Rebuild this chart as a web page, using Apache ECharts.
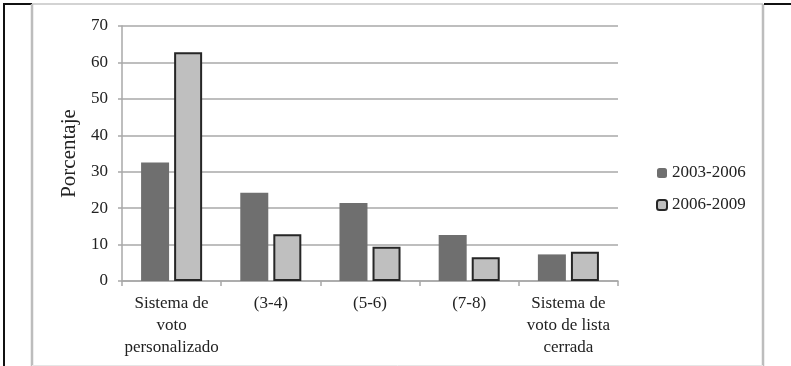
<!DOCTYPE html>
<html>
<head>
<meta charset="utf-8">
<script src="https://cdn.jsdelivr.net/npm/echarts@6/dist/echarts.min.js"></script>
<style>
html,body{margin:0;padding:0;background:#fff;}
#c{width:791px;height:366px;}
</style>
</head>
<body>
<div id="c"></div>
<script>
const categories = ["Sistema de\nvoto\npersonalizado", "(3-4)", "(5-6)", "(7-8)", "Sistema de\nvoto de lista\ncerrada"];
const seriesNames = ["2003-2006", "2006-2009"];
const values2003 = [32.5, 24.2, 21.4, 12.6, 7.3];
const values2006 = [62.8, 12.8, 9.4, 6.5, 8.0];
const yTicks = [0, 10, 20, 30, 40, 50, 60, 70];

const font = "'Liberation Serif', 'Times New Roman', serif";
const chart = echarts.init(document.getElementById('c'), null, {renderer: 'canvas'});
chart.setOption({
  backgroundColor: '#fff',
  animation: false,
  textStyle: {fontFamily: font},
  grid: {left: 122, right: 173, top: 26, bottom: 85, containLabel: false},
  legend: {
    orient: 'vertical',
    left: 651,
    top: 158,
    itemWidth: 10,
    itemHeight: 10,
    itemGap: 12,
    textStyle: {fontFamily: font, fontSize: 17, color: '#222', lineHeight: 20},
    data: seriesNames
  },
  xAxis: {
    type: 'category',
    data: categories,
    axisLine: {lineStyle: {color: '#a8a8a8', width: 1.5}},
    axisTick: {show: true, alignWithLabel: false, length: 5, lineStyle: {color: '#a8a8a8', width: 1.5}},
    axisLabel: {fontFamily: font, fontSize: 17, color: '#222', lineHeight: 22, margin: 12, interval: 0}
  },
  yAxis: {
    type: 'value',
    min: yTicks[0],
    max: yTicks[yTicks.length - 1],
    interval: 10,
    name: 'Porcentaje',
    nameLocation: 'middle',
    nameGap: 38,
    nameTextStyle: {fontFamily: font, fontSize: 21, color: '#222'},
    axisLine: {show: true, lineStyle: {color: '#a8a8a8', width: 1.5}},
    axisTick: {show: true, length: 4, lineStyle: {color: '#a8a8a8', width: 1.5}},
    axisLabel: {fontFamily: font, fontSize: 17, color: '#222', margin: 14},
    splitLine: {lineStyle: {color: '#a8a8a8', width: 1.5}}
  },
  series: [
    {
      name: seriesNames[0],
      type: 'bar',
      data: values2003,
      barWidth: 28,
      barGap: '18%',
      itemStyle: {color: '#6f6f6f'}
    },
    {
      name: seriesNames[1],
      type: 'bar',
      data: values2006,
      barWidth: 28,
      itemStyle: {color: '#bfbfbf', borderColor: '#262626', borderWidth: 2}
    }
  ],
  graphic: [
    {type: 'line', shape: {x1: 4, y1: 4, x2: 4, y2: 366}, style: {stroke: '#111', lineWidth: 2}},
    {type: 'line', shape: {x1: 3, y1: 4, x2: 32, y2: 4}, style: {stroke: '#111', lineWidth: 2}},
    {type: 'line', shape: {x1: 32, y1: 4, x2: 763, y2: 4}, style: {stroke: '#c4c4c4', lineWidth: 1.5}},
    {type: 'line', shape: {x1: 32, y1: 4, x2: 32, y2: 366}, style: {stroke: '#bdbdbd', lineWidth: 2.5}},
    {type: 'line', shape: {x1: 763, y1: 4, x2: 763, y2: 366}, style: {stroke: '#bdbdbd', lineWidth: 2.5}},
    {type: 'line', shape: {x1: 764, y1: 4, x2: 791, y2: 4}, style: {stroke: '#111', lineWidth: 2}},
    {type: 'line', shape: {x1: 32, y1: 365.5, x2: 763, y2: 365.5}, style: {stroke: '#e6e6e6', lineWidth: 1}}
  ]
});
</script>
</body>
</html>
